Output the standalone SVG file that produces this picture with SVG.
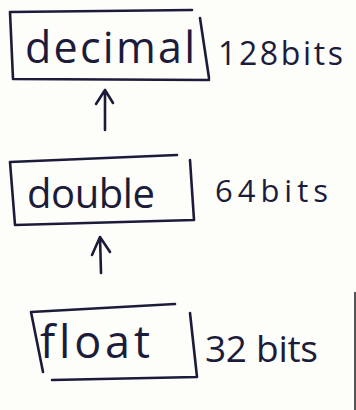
<svg xmlns="http://www.w3.org/2000/svg" width="356" height="410" viewBox="0 0 356 410">
<style>
.box{fill:none;stroke:#1c1c3a;stroke-width:2.6;stroke-linecap:round;stroke-linejoin:round}
.lbl{font-family:"Open Sans","Liberation Sans","DejaVu Sans",sans-serif;font-weight:400;fill:#1c1c3a;font-variant-ligatures:none}
.arr{fill:none;stroke:#1c1c3a;stroke-width:2.6;stroke-linecap:round;stroke-linejoin:round}
</style>
<rect x="0" y="0" width="356" height="410" fill="#fdfdfa"/>
<line x1="355" y1="292" x2="355" y2="410" stroke="#555" stroke-width="2"/>
<g id="decimal">
<path class="box" d="M10,12 L192,10 M200,18 L209,78 M13,79 L209,80 M10,12 L13,79"/>
<text class="lbl" x="25" y="63" font-size="43" textLength="170" lengthAdjust="spacing">decimal</text>
<text class="lbl" x="218" y="65" font-size="32" textLength="125" lengthAdjust="spacing">128bits</text>
</g>
<g id="double">
<path class="box" d="M10,162 L177,155 M190,160 L194,220 M15,225 L194,220 M10,162 L15,225"/>
<text class="lbl" x="27" y="208" font-size="40" textLength="128" lengthAdjust="spacing">double</text>
<text class="lbl" x="215" y="202" font-size="31" textLength="113" lengthAdjust="spacing">64bits</text>
</g>
<g id="float">
<path class="box" d="M31,312 L175,304 M190,313 L197,377 M52,380 L197,377 M31,312 L43,372"/>
<text class="lbl" x="40" y="358" font-size="45" textLength="110" lengthAdjust="spacing">float</text>
<text class="lbl" x="205" y="362" font-size="37" textLength="113" lengthAdjust="spacing">32 bits</text>
</g>
<g id="connectors">
<path class="arr" d="M105,130 L105,90 M96,104 L105,90 L113,103"/>
<path class="arr" d="M101,273 L100,237 M92,255 L100,237 L110,252"/>
</g>
</svg>
